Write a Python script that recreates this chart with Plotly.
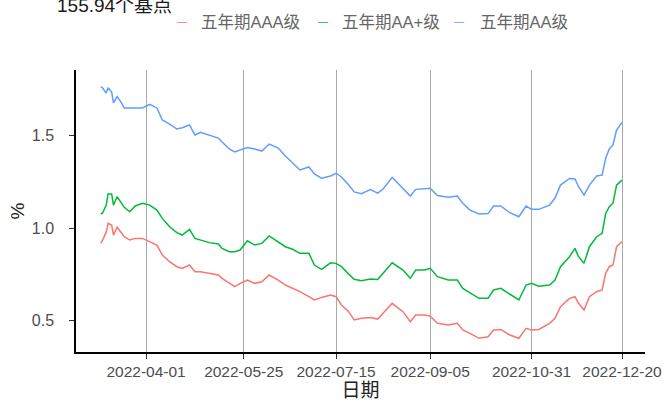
import plotly.graph_objects as go

dates = ["2022-03-07","2022-03-08","2022-03-10","2022-03-11","2022-03-13","2022-03-14","2022-03-16","2022-03-18","2022-03-20","2022-03-23",
         "2022-03-26","2022-03-30","2022-04-03","2022-04-07","2022-04-10","2022-04-14","2022-04-18","2022-04-21","2022-04-25","2022-04-28",
         "2022-05-01","2022-05-06","2022-05-11","2022-05-13","2022-05-17","2022-05-20","2022-05-23","2022-05-27","2022-05-31","2022-06-04",
         "2022-06-08","2022-06-13","2022-06-17","2022-06-21","2022-06-25","2022-06-30","2022-07-03","2022-07-07","2022-07-12","2022-07-15",
         "2022-07-18","2022-07-22","2022-07-25","2022-07-29","2022-08-03","2022-08-07","2022-08-10","2022-08-15","2022-08-21","2022-08-25",
         "2022-08-28","2022-09-02","2022-09-05","2022-09-09","2022-09-15","2022-09-20","2022-09-23","2022-09-27","2022-10-02","2022-10-07",
         "2022-10-10","2022-10-14","2022-10-19","2022-10-24","2022-10-28","2022-10-31","2022-11-04","2022-11-10","2022-11-13","2022-11-16",
         "2022-11-21","2022-11-24","2022-11-26","2022-11-29","2022-12-02","2022-12-06","2022-12-09","2022-12-11","2022-12-13","2022-12-15",
         "2022-12-17","2022-12-20"]

aaa = [0.919,0.935,0.978,1.025,1.016,0.962,1.004,0.980,0.953,0.935,
       0.944,0.944,0.926,0.908,0.854,0.818,0.791,0.782,0.800,0.764,
       0.764,0.755,0.746,0.728,0.703,0.683,0.701,0.719,0.701,0.710,
       0.746,0.719,0.692,0.674,0.656,0.629,0.611,0.625,0.638,0.629,
       0.584,0.548,0.503,0.512,0.516,0.508,0.539,0.593,0.548,0.494,
       0.530,0.530,0.524,0.485,0.476,0.485,0.449,0.431,0.404,0.412,
       0.449,0.452,0.422,0.404,0.458,0.449,0.452,0.485,0.512,0.575,
       0.620,0.629,0.593,0.557,0.629,0.656,0.665,0.755,0.791,0.800,
       0.899,0.926]

aa_plus = [1.076,1.081,1.124,1.184,1.184,1.124,1.169,1.142,1.112,1.088,
           1.119,1.134,1.124,1.097,1.052,1.007,0.975,0.962,0.993,0.944,
           0.935,0.921,0.914,0.890,0.872,0.872,0.881,0.931,0.908,0.917,
           0.957,0.926,0.899,0.885,0.863,0.863,0.800,0.777,0.812,0.809,
           0.791,0.751,0.723,0.715,0.724,0.722,0.755,0.812,0.773,0.728,
           0.773,0.773,0.782,0.737,0.719,0.719,0.674,0.650,0.620,0.620,
           0.665,0.674,0.643,0.611,0.692,0.701,0.686,0.692,0.719,0.791,
           0.845,0.890,0.845,0.809,0.899,0.953,0.971,1.079,1.115,1.134,
           1.232,1.259]

aa = [1.764,1.757,1.730,1.758,1.735,1.676,1.710,1.683,1.649,1.649,
      1.652,1.649,1.669,1.649,1.584,1.562,1.535,1.542,1.557,1.503,
      1.517,1.503,1.486,1.465,1.427,1.411,1.422,1.435,1.427,1.416,
      1.454,1.432,1.389,1.351,1.314,1.330,1.292,1.269,1.281,1.296,
      1.276,1.232,1.195,1.186,1.208,1.189,1.211,1.274,1.215,1.173,
      1.209,1.215,1.215,1.176,1.166,1.173,1.134,1.097,1.076,1.078,
      1.119,1.119,1.083,1.061,1.119,1.101,1.101,1.124,1.162,1.232,
      1.268,1.265,1.223,1.178,1.232,1.281,1.286,1.378,1.427,1.449,
      1.530,1.571]

series_names = ["五年期AAA级", "五年期AA+级", "五年期AA级"]
series_colors = ["#F8766D", "#00BA38", "#619CFF"]
tick_dates = ["2022-04-01","2022-05-25","2022-07-15","2022-09-05","2022-10-31","2022-12-20"]
y_ticks = [0.5, 1.0, 1.5]
title_text = "155.94个基点"

FONT = "Liberation Sans, Noto Sans CJK SC, sans-serif"
W, H = 669, 407
ML, MR, MT, MB = 76, 24, 70, 55
PW, PH = W - ML - MR, H - MT - MB

def px_x(p):
    return (p - ML) / PW

def px_y(p):
    return (H - MB - p) / PH

fig = go.Figure()
for name, vals, col in zip(series_names, [aaa, aa_plus, aa], series_colors):
    fig.add_trace(go.Scatter(x=dates, y=vals, mode="lines", name=name,
                             line=dict(color=col, width=1.5), showlegend=False))

# legend row (ggplot-style short keys) built from text
legend_key_px = [175, 316, 452]
legend_text_px = [199, 340, 478]
for name, col, kx, tx in zip(series_names, series_colors, legend_key_px, legend_text_px):
    fig.add_annotation(text="—", x=px_x(kx), y=px_y(21), xref="paper", yref="paper",
                       xanchor="left", yanchor="middle", showarrow=False,
                       font=dict(size=10, color=col, family=FONT))
    fig.add_annotation(text=name, x=px_x(tx), y=px_y(22), xref="paper", yref="paper",
                       xanchor="left", yanchor="middle", showarrow=False,
                       font=dict(size=16.5, color="#666666", family=FONT))

fig.update_layout(
    width=W, height=H,
    margin=dict(l=ML, r=MR, t=MT, b=MB),
    paper_bgcolor="white", plot_bgcolor="white",
    showlegend=False,
    font=dict(family=FONT, size=16, color="#4d4d4d"),
    title=dict(text=title_text, x=57 / W, xanchor="left", xref="container",
               y=1 - 5 / H, yanchor="middle", yref="container",
               font=dict(size=19, color="#1a1a1a", family=FONT)),
    xaxis=dict(type="date", range=["2022-02-21 07:00", "2023-01-01 17:00"],
               tickvals=tick_dates, ticktext=tick_dates,
               showgrid=True, gridcolor="#a9a9a9", gridwidth=1,
               showline=True, linecolor="black", linewidth=1.5,
               ticks="outside", ticklen=5, tickcolor="#333333",
               tickfont=dict(size=15.5, color="#4d4d4d"),
               title=dict(text="日期", font=dict(size=19, color="#222222"), standoff=4),
               zeroline=False, automargin=False),
    yaxis=dict(range=[0.330, 1.854], tickvals=y_ticks, tickformat=".1f",
               showgrid=False, showline=True, linecolor="black", linewidth=1.5,
               ticks="outside", ticklen=5, tickcolor="#333333",
               ticklabelstandoff=12,
               tickfont=dict(size=16, color="#4d4d4d"),
               title=dict(text="%", font=dict(size=19, color="#222222"), standoff=2),
               zeroline=False, automargin=False),
)

fig.write_html("out.html", config={"displayModeBar": False},
               post_script="document.body.style.margin='0';document.body.style.padding='0';")
